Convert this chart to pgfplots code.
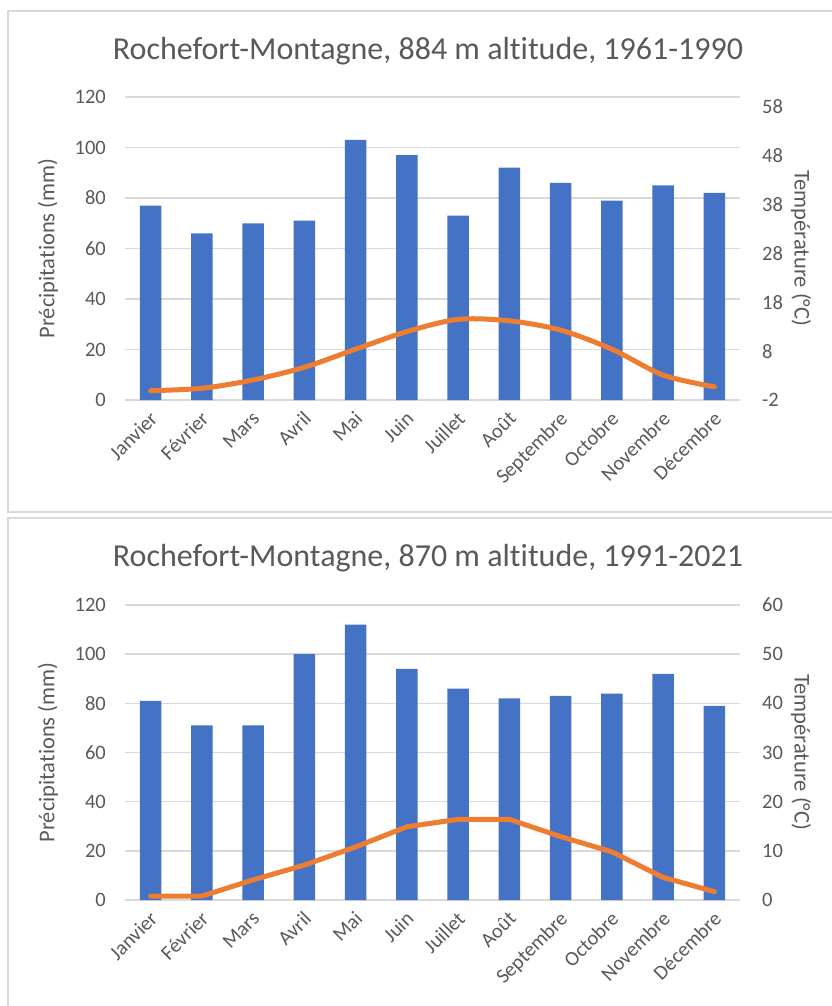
\documentclass[border=0pt]{standalone}
\usepackage{fontspec}
\setmainfont{Carlito}[Ligatures=CommonOff]
\usepackage{pgfplots}
\usepackage{pgfplotstable}
\pgfplotsset{compat=1.18}
\definecolor{txt}{HTML}{595959}
\definecolor{gridc}{HTML}{D9D9D9}
\definecolor{boxc}{HTML}{D9D9D9}
\definecolor{bleu}{HTML}{4472C4}
\definecolor{orng}{HTML}{ED7D31}

\pgfplotstableread{
m  p1  t1    p2  t2
0  77  -0.1  81  0.8
1  66  0.4   71  0.8
2  70  2.1   71  4.1
3  71  4.7   100 7.1
4  103 8.4   112 10.8
5  97  12.0  94  14.9
6  73  14.5  86  16.4
7  92  14.2  82  16.4
8  86  12.3  83  12.9
9  79  8.4   84  9.8
10 85  3.1   92  4.6
11 82  0.7   79  1.7
}\data

\pgfplotsset{
  base/.style={
    scale only axis, width=615pt,
    xmin=-0.5, xmax=11.5,
    tick label style={font=\fontsize{20.5}{24}\selectfont, text=txt},
    label style={font=\fontsize{22.5}{27}\selectfont, text=txt},
    tick style={draw=none},
    major tick length=0pt,
    /pgf/number format/assume math mode=true,
  },
  leftax/.style={
    base,
    axis x line=bottom, axis y line=left,
    axis line style={-},
    x axis line style={draw=gridc, line width=1.5pt},
    y axis line style={draw=none},
    ymin=0, ymax=120, ytick={0,20,...,120},
    ymajorgrids, grid style={gridc, line width=1.5pt},
    xtick={0,...,11},
    xticklabels={Janvier,Février,Mars,Avril,Mai,Juin,Juillet,Août,Septembre,Octobre,Novembre,Décembre},
    xticklabel style={font=\fontsize{20.5}{24}\selectfont, yshift=-10pt, xshift=-2pt, rotate=45, anchor=north east, inner sep=0pt},
    yticklabel style={inner sep=0pt, xshift=-19pt},
    ylabel={Précipitations (mm)},
    every axis y label/.append style={at={(axis description cs:-0.1252,0.5)}, anchor=center, rotate=0},
    title style={font=\fontsize{32}{38}\selectfont, text=txt, anchor=base},
  },
  rightax/.style={
    base,
    axis x line=none, axis y line*=right,
    y axis line style={draw=none},
    xtick=\empty,
    yticklabel style={inner sep=0pt, xshift=22pt, anchor=west},
    ylabel={Température (°C)},
    every axis y label/.append style={at={(axis description cs:1.0992,0.5)}, anchor=center, rotate=-180},
  },
}

\begin{document}
\begin{tikzpicture}
\path[use as bounding box] (0pt,0pt) rectangle (832pt,-1006pt);
\draw[boxc, line width=1.5pt] (8pt,-11pt) rectangle (845pt,-512pt);
\draw[boxc, line width=1.5pt] (8pt,-518pt) rectangle (845pt,-1020pt);

% ---------- Chart 1 ----------
\begin{axis}[leftax, at={(125pt,-400pt)}, anchor=south west, height=303pt,
  title={Rochefort-Montagne, 884 m altitude, 1961-1990},
  title style={at={(axis description cs:0.4927,1.105)}}]
\addplot[ybar, bar width=21.5pt, fill=bleu, draw=none, bar shift=0pt] table[x=m, y=p1] {\data};
\end{axis}
\begin{axis}[rightax, at={(125pt,-400pt)}, anchor=south west, height=303pt,
  ymin=-2, ymax=60, ytick={-2,8,18,28,38,48,58},
  yticklabels={-2,8,18,28,38,48,58}]
\addplot[orng, line width=5pt, smooth, line cap=round, line join=round] table[x=m, y=t1] {\data};
\end{axis}

% ---------- Chart 2 ----------
\begin{axis}[leftax, at={(125pt,-900pt)}, anchor=south west, height=295pt,
  title={Rochefort-Montagne, 870 m altitude, 1991-2021},
  title style={at={(axis description cs:0.4927,1.11)}}]
\addplot[ybar, bar width=21.5pt, fill=bleu, draw=none, bar shift=0pt] table[x=m, y=p2] {\data};
\end{axis}
\begin{axis}[rightax, at={(125pt,-900pt)}, anchor=south west, height=295pt,
  ymin=0, ymax=60, ytick={0,10,...,60},
  yticklabels={0,10,20,30,40,50,60}]
\addplot[orng, line width=5pt, line cap=round, line join=round] table[x=m, y=t2] {\data};
\end{axis}
\end{tikzpicture}
\end{document}
